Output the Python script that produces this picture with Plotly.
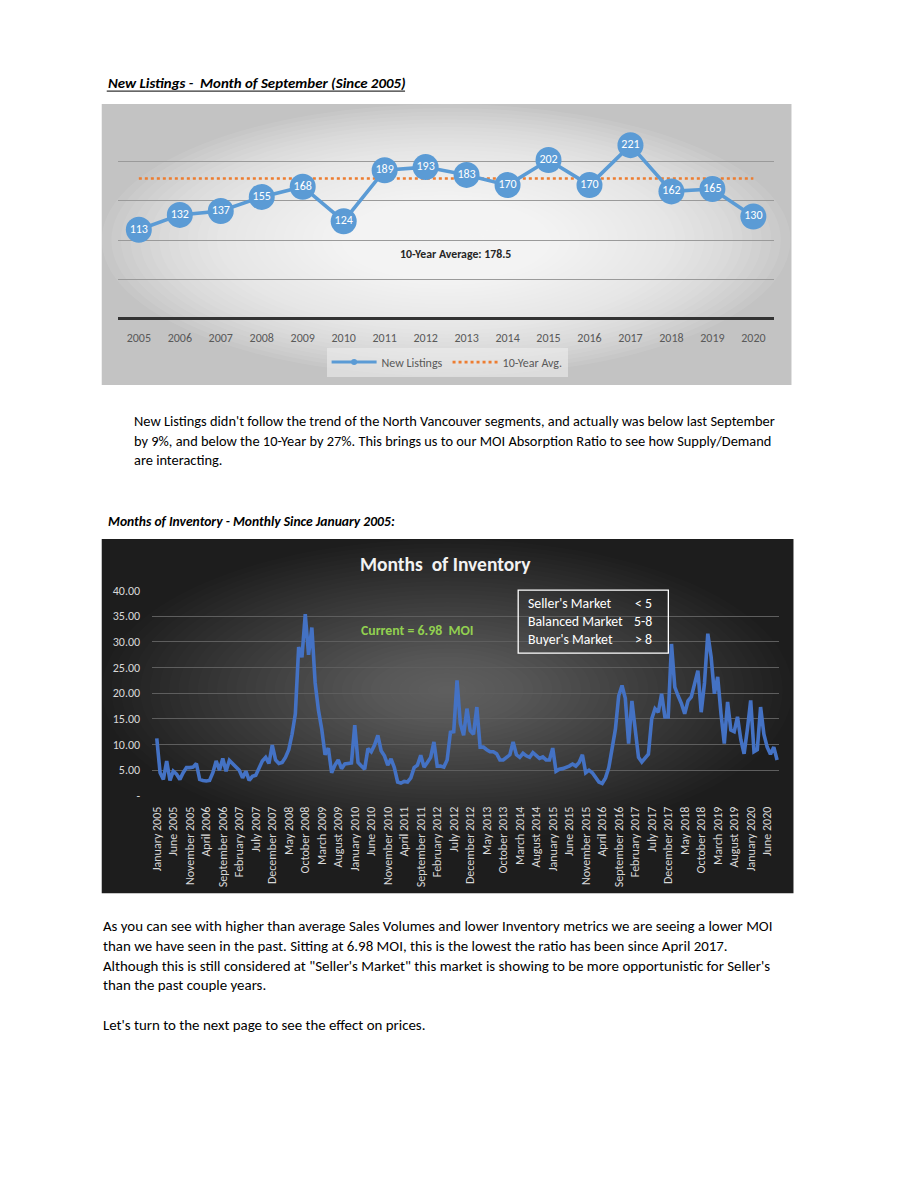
import plotly.graph_objects as go

PAGE_W, PAGE_H = 918, 1188
OFF = 8  # default body margin of the html page
W, H = PAGE_W - 2 * OFF, PAGE_H - 2 * OFF


def px(x):
    x = (x - 3.4) / 0.9956
    return (x - OFF) / W


def py(y):
    y = (y - 7.0) / 0.988
    return 1 - (y - OFF) / H


# ---------------- Data ----------------
years = [str(y) for y in range(2005, 2021)]
new_listings = [113, 132, 137, 155, 168, 124, 189, 193, 183, 170, 202, 170, 221, 162, 165, 130]
ten_year_avg = 178.5

month_names = ["January", "February", "March", "April", "May", "June", "July",
               "August", "September", "October", "November", "December"]

moi_values = [
    11.2, 4.5, 3.2, 6.8, 3.0, 4.8, 4.2, 3.2, 4.5, 5.5,
    5.5, 5.6, 6.3, 3.2, 3.0, 2.9, 3.0, 4.5, 6.8, 5.0,
    7.3, 4.8, 6.9, 6.3, 5.5, 5.0, 3.5, 4.8, 3.0, 3.8,
    4.0, 5.5, 6.8, 7.5, 6.3, 9.9, 7.0, 6.3, 6.5, 7.5,
    9.0, 12.0, 16.0, 29.0, 27.0, 35.4, 27.5, 32.8, 22.0, 16.7,
    13.0, 8.0, 9.3, 4.5, 6.0, 7.0, 5.3, 6.2, 6.3, 6.4,
    13.8, 6.5, 5.8, 5.2, 9.2, 8.6, 9.9, 11.8, 8.8, 7.8,
    6.0, 7.2, 5.5, 2.7, 2.5, 2.8, 2.7, 3.5, 5.5, 6.0,
    7.9, 5.6, 6.5, 7.5, 10.5, 5.8, 5.8, 5.6, 7.0, 12.4,
    12.5, 22.5, 14.1, 11.8, 17.0, 12.7, 12.0, 17.3, 9.5, 9.5,
    9.0, 8.6, 8.6, 8.2, 7.0, 7.0, 7.5, 8.0, 10.5, 8.0,
    7.5, 8.3, 7.8, 7.5, 8.4, 7.8, 7.3, 7.6, 7.0, 7.0,
    9.3, 4.8, 5.2, 5.3, 5.5, 5.8, 6.2, 5.8, 6.5, 8.0,
    4.5, 5.0, 4.5, 3.6, 2.7, 2.4, 3.5, 5.5, 9.0, 13.0,
    19.5, 21.5, 19.0, 10.2, 18.5, 13.0, 7.5, 6.6, 7.3, 8.1,
    15.0, 17.0, 16.3, 19.9, 15.4, 15.4, 29.6, 21.2, 19.5, 18.0,
    16.0, 18.5, 19.3, 22.0, 24.4, 16.3, 22.0, 31.6, 27.1, 19.9,
    23.2, 16.0, 10.2, 18.3, 12.8, 12.5, 15.4, 11.0, 8.2, 13.0,
    18.6, 8.6, 9.0, 17.3, 12.0, 9.5, 8.1, 9.5, 6.98,
]
moi_labels = [f"{month_names[i % 12]} {2005 + i // 12}" for i in range(len(moi_values))]
moi_ytick_vals = [0, 5, 10, 15, 20, 25, 30, 35, 40]
moi_ytick_text = ["-", "5.00", "10.00", "15.00", "20.00", "25.00", "30.00", "35.00", "40.00"]

FONT = "Carlito, Lato, 'Open Sans', sans-serif"

fig = go.Figure()

# ---------------- Chart 1: New Listings ----------------
fig.add_trace(go.Scatter(
    x=years, y=[ten_year_avg] * len(years), mode="lines",
    line=dict(color="#ED7D31", width=2.6, dash="dot"),
    showlegend=False, xaxis="x", yaxis="y", hoverinfo="skip"))
fig.add_trace(go.Scatter(
    x=years, y=new_listings, mode="lines+markers+text",
    text=[str(v) for v in new_listings], textposition="middle center",
    textfont=dict(color="white", size=12, family=FONT),
    line=dict(color="#5B9BD5", width=3.6),
    marker=dict(size=26, color="#5B9BD5", line=dict(color="#5B9BD5", width=0)),
    showlegend=False, xaxis="x", yaxis="y"))
# legend entries
fig.add_trace(go.Scatter(
    x=[None], y=[None], mode="lines+markers", name="New Listings",
    line=dict(color="#5B9BD5", width=3), marker=dict(size=6, color="#5B9BD5"),
    xaxis="x", yaxis="y"))
fig.add_trace(go.Scatter(
    x=[None], y=[None], mode="lines", name="10-Year Avg.",
    line=dict(color="#ED7D31", width=2.6, dash="dot"),
    xaxis="x", yaxis="y"))

# ---------------- Chart 2: Months of Inventory ----------------
fig.add_trace(go.Scatter(
    x=moi_labels, y=moi_values, mode="lines",
    line=dict(color="#4472C4", width=3.6),
    showlegend=False, xaxis="x2", yaxis="y2"))

shapes = []


def gradient(rect, base, cx, cy, fill, steps, sx=1.0, sy=1.0):
    x0r, y0r, x1r, y1r = rect
    shapes.append(dict(type="rect", xref="paper", yref="paper", layer="below",
                       x0=px(x0r), x1=px(x1r), y0=py(y1r), y1=py(y0r),
                       fillcolor=base, line=dict(width=0)))
    max_hw = min(cx - x0r, x1r - cx) * sx
    max_hh = min(cy - y0r, y1r - cy) * sy
    for i in range(steps):
        f = 1 - i / steps
        hw, hh = max_hw * f, max_hh * f
        shapes.append(dict(type="circle", xref="paper", yref="paper", layer="below",
                           x0=px(cx - hw), x1=px(cx + hw), y0=py(cy + hh), y1=py(cy - hh),
                           fillcolor=fill, line=dict(width=0)))


# chart 1 background (light radial gradient)
gradient((102, 104, 791, 385), "#C3C3C3", 446, 240, "rgba(255,255,255,0.075)", 36)
# chart 2 background (dark radial gradient)
gradient((102, 539, 793, 893), "#1D1D1D", 447, 690, "rgba(255,255,255,0.012)", 36)

# heading underline
shapes.append(dict(type="line", xref="paper", yref="paper",
                   x0=px(107), x1=px(405), y0=py(91), y1=py(91),
                   line=dict(color="black", width=1)))
# market box
shapes.append(dict(type="rect", xref="paper", yref="paper",
                   x0=px(518), x1=px(668), y0=py(653), y1=py(590),
                   line=dict(color="white", width=1.3)))

annotations = []


def text(x, y, s, size=13.5, color="black", anchor="left", bold=False, italic=False):
    if italic:
        s = f"<i>{s}</i>"
    if bold:
        s = f"<b>{s}</b>"
    annotations.append(dict(xref="paper", yref="paper", x=px(x), y=py(y), text=s,
                            showarrow=False, xanchor=anchor, yanchor="middle",
                            font=dict(family=FONT, size=size, color=color)))


text(106, 83, "New Listings -\u00a0 Month of September (Since 2005)", size=14.9, bold=True, italic=True)
text(455, 254, "10-Year Average: 178.5", size=11.8, color="#262626", anchor="center", bold=True)

p1 = ["New Listings didn't follow the trend of the North Vancouver segments, and actually was below last September",
      "by 9%, and below the 10-Year by 27%. This brings us to our MOI Absorption Ratio to see how Supply/Demand",
      "are interacting."]
for i, line in enumerate(p1):
    text(132, 421 + i * 19.5, line, size=14.4)

text(106, 521, "Months of Inventory - Monthly Since January 2005:", size=13.6, bold=True, italic=True)

text(445, 564, "Months\u00a0 of Inventory", size=19.5, color="#F2F2F2", anchor="center", bold=True)
text(417, 630, "Current = 6.98\u00a0 MOI", size=13.8, color="#92D050", anchor="center", bold=True)

box_labels = ["Seller's Market", "Balanced Market", "Buyer's Market"]
box_values = ["< 5", "5-8", "> 8"]
for i, (lab, val) in enumerate(zip(box_labels, box_values)):
    text(526, 603 + i * 18, lab, size=13.8, color="white")
    text(654, 603 + i * 18, val, size=13.8, color="white", anchor="right")

p2 = ["As you can see with higher than average Sales Volumes and lower Inventory metrics we are seeing a lower MOI",
      "than we have seen in the past. Sitting at 6.98 MOI, this is the lowest the ratio has been since April 2017.",
      "Although this is still considered at \"Seller's Market\" this market is showing to be more opportunistic for Seller's",
      "than the past couple years."]
for i, line in enumerate(p2):
    text(101, 926 + i * 19.7, line, size=14.9)
text(101, 1025, "Let's turn to the next page to see the effect on prices.", size=14.9)

fig.update_layout(
    width=W, height=H,
    margin=dict(l=0, r=0, t=0, b=0),
    paper_bgcolor="white", plot_bgcolor="rgba(0,0,0,0)",
    font=dict(family=FONT),
    showlegend=True,
    legend=dict(orientation="h", x=px(447), y=py(362), xanchor="center", yanchor="middle",
                bgcolor="rgba(240,240,240,0.55)", font=dict(size=12, color="#595959", family=FONT),
                itemwidth=45, tracegroupgap=0),
    xaxis=dict(domain=[px(118.6), px(773.4)], type="category", range=[-0.5, 15.5],
               showgrid=False, showline=False, zeroline=False,
               ticks="outside", ticklen=8, tickcolor="rgba(0,0,0,0)",
               tickfont=dict(size=12, color="#595959", family=FONT),
               anchor="y", fixedrange=True),
    yaxis=dict(domain=[py(318.3), py(122.3)], range=[0, 250],
               tickvals=[0, 50, 100, 150, 200, 250], showticklabels=False,
               showgrid=True, gridcolor="#9A9A9A", gridwidth=1,
               zeroline=True, zerolinecolor="#333333", zerolinewidth=2.5,
               anchor="x", fixedrange=True),
    xaxis2=dict(domain=[px(152.7), px(778.6)], type="category", range=[-1.3, 188.6],
                tickmode="linear", tick0=0, dtick=5, tickangle=-90,
                showgrid=False, showline=False, zeroline=False,
                ticks="outside", ticklen=5, tickcolor="rgba(0,0,0,0)",
                tickfont=dict(size=12, color="#D9D9D9", family=FONT),
                anchor="y2", fixedrange=True),
    yaxis2=dict(domain=[py(795.7), py(590.5)], range=[0, 40],
                tickvals=moi_ytick_vals, ticktext=moi_ytick_text,
                showgrid=True, gridcolor="#5E5E5E", gridwidth=1,
                zeroline=False, showline=False,
                ticks="outside", ticklen=9, tickcolor="rgba(0,0,0,0)",
                tickfont=dict(size=12, color="#D9D9D9", family=FONT),
                anchor="x2", fixedrange=True),
    shapes=shapes,
    annotations=annotations,
)

fig.write_html("out.html")
